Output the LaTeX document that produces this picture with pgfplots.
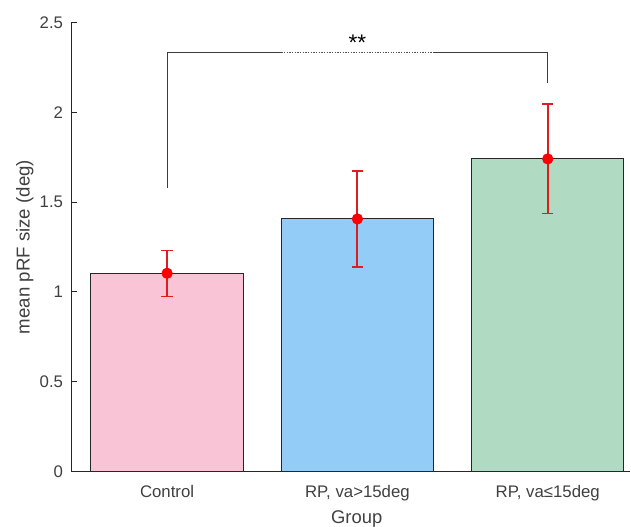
\documentclass[border=0pt]{standalone}
\usepackage{pgfplots}
\pgfplotsset{compat=1.18}
\usepackage{fontspec}
\setmainfont{Liberation Sans}

\definecolor{barpink}{RGB}{249,196,214}
\definecolor{barblue}{RGB}{148,204,248}
\definecolor{bargreen}{RGB}{177,218,195}
\definecolor{errred}{RGB}{222,30,30}
\definecolor{axgray}{RGB}{38,38,38}
\definecolor{txtgray}{RGB}{64,64,64}

\begin{document}
\begin{tikzpicture}
\begin{axis}[
  scale only axis,
  width=419.25pt, height=337.5pt,
  xmin=0.5, xmax=3.434,
  ymin=0, ymax=2.5,
  axis lines=left,
  axis line style={-, axgray, line width=0.75pt},
  clip=false,
  xtick={1,2,3},
  xticklabels={Control, {RP, va>15deg}, {RP, va≤15deg}},
  xtick style={draw=none},
  xticklabel style={font=\fontsize{12.6}{14}\selectfont, text=txtgray, anchor=base, yshift=-19.5pt},
  ytick={0,0.5,1,1.5,2,2.5},
  yticklabels={0,0.5,1,1.5,2,2.5},
  ytick style={axgray, line width=0.75pt},
  tick align=inside,
  major tick length=3.5pt,
  yticklabel style={font=\fontsize{12.6}{14}\selectfont, text=txtgray, anchor=east, inner sep=0pt, xshift=-6.5pt},
  xlabel={Group},
  xlabel style={font=\fontsize{13.8}{16}\selectfont, text=txtgray, at={(axis description cs:0.51,0)}, anchor=base, yshift=-39pt},
  ylabel={mean pRF size (deg)},
  ylabel style={font=\fontsize{14}{16}\selectfont, text=txtgray, at={(axis description cs:-0.0845,0.5)}, anchor=center},
]
% group means as bars
\addplot[ybar, bar width=0.8, bar shift=0pt, fill=barpink, draw=axgray, line width=0.75pt]
  coordinates {(1,1.104)};
\addplot[ybar, bar width=0.8, bar shift=0pt, fill=barblue, draw=axgray, line width=0.75pt]
  coordinates {(2,1.406)};
\addplot[ybar, bar width=0.8, bar shift=0pt, fill=bargreen, draw=axgray, line width=0.75pt]
  coordinates {(3,1.740)};

% means with standard errors
\addplot[errred, only marks, mark=*, mark size=4pt, mark options={fill=red, draw=red},
  error bars/.cd, y dir=both, y explicit,
  error bar style={draw=errred, line width=1.4pt},
  error mark options={draw=errred, rotate=90, mark size=4.2pt, line width=1.1pt}]
  coordinates {(1,1.104) +- (0,0.128) (2,1.406) +- (0,0.266) (3,1.740) +- (0,0.304)};

% significance bracket between Control and RP, va<=15deg
\addplot[axgray!90, line width=0.6pt] coordinates {(1,1.58) (1,2.333) (1.6,2.333)};
\addplot[axgray!80, line width=0.5pt, dash pattern=on 1pt off 1pt] coordinates {(1.6,2.333) (2.4,2.333)};
\addplot[axgray!90, line width=0.6pt] coordinates {(2.4,2.333) (3,2.333) (3,2.16)};
\node[font=\fontsize{17}{17}\selectfont, anchor=center, inner sep=0pt] at (axis cs:2,2.385) {**};

\coordinate (bl) at (rel axis cs:0,0);
\coordinate (tr) at (rel axis cs:1,1);
\end{axis}
\pgfresetboundingbox
\path ([shift={(-54pt,-40.9pt)}]bl) rectangle ([shift={(0.5pt,16.7pt)}]tr);
\end{tikzpicture}
\end{document}
